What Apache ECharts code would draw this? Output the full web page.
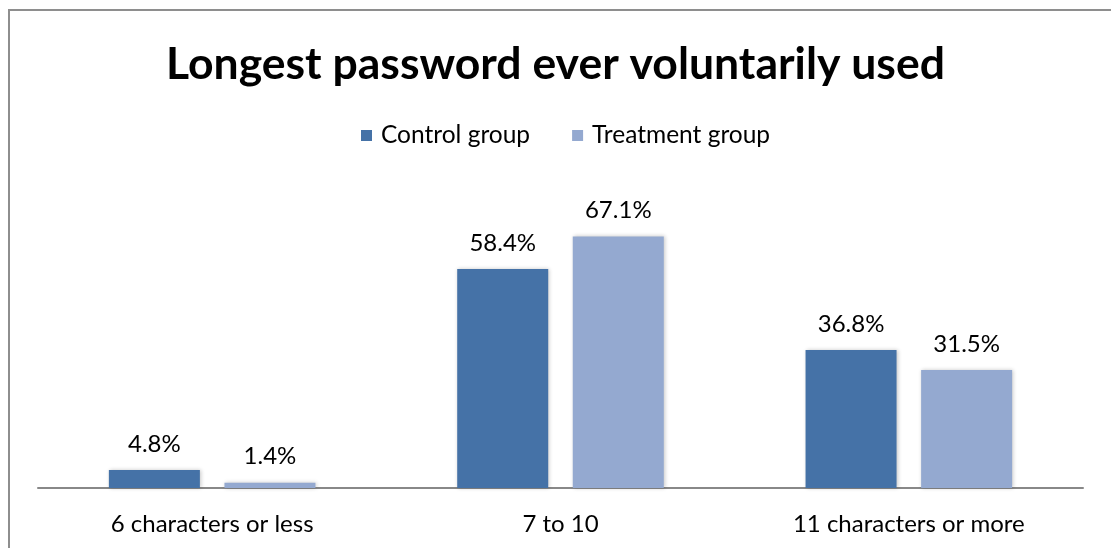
<!DOCTYPE html>
<html>
<head>
<meta charset="utf-8">
<script src="https://cdn.jsdelivr.net/npm/echarts@6/dist/echarts.min.js"></script>
<style>
  html, body { margin: 0; padding: 0; background: #fff; }
  #chart { width: 1111px; height: 548px; }
</style>
</head>
<body>
<div id="chart"></div>
<script>
// Length buckets and share of respondents (%) per group
const categories = ['6 characters or less', '7 to 10', '11 characters or more'];
const controlGroup = [4.8, 58.4, 36.8];
const treatmentGroup = [1.4, 67.1, 31.5];
const seriesNames = ['Control group', 'Treatment group'];

const FONT = 'Lato, "Open Sans", sans-serif';
const chart = echarts.init(document.getElementById('chart'), null, { renderer: 'canvas' });

const barShadow = {
  shadowColor: 'rgba(0,0,0,0.22)',
  shadowBlur: 4,
  shadowOffsetX: 1,
  shadowOffsetY: 0
};

const valueLabel = {
  show: true, position: 'top', distance: 14,
  formatter: p => p.value.toFixed(1) + '%',
  fontFamily: FONT, fontSize: 24, color: '#000'
};

chart.setOption({
  animation: false,
  backgroundColor: '#fff',
  title: {
    text: 'Longest password ever voluntarily used',
    left: 'center',
    top: 37,
    textStyle: { fontFamily: FONT, fontWeight: 'bold', fontSize: 44.5, color: '#000' }
  },
  legend: {
    top: 118,
    left: 356,
    itemWidth: 11,
    itemHeight: 11,
    itemGap: 42,
    icon: 'rect',
    textStyle: { fontFamily: FONT, fontSize: 24.5, color: '#000', padding: [0, 0, 0, 4] },
    data: seriesNames
  },
  graphic: [{
    type: 'rect',
    shape: { x: 9, y: 10, width: 1200, height: 700 },
    style: { fill: 'none', stroke: '#8e8e8e', lineWidth: 2 },
    silent: true
  }],
  grid: { left: 38, right: 28, top: 188, bottom: 60 },
  xAxis: {
    type: 'category',
    data: categories,
    axisLine: { lineStyle: { color: '#888', width: 2 } },
    axisTick: { show: false },
    axisLabel: { fontFamily: FONT, fontSize: 24, color: '#000', margin: 24 }
  },
  yAxis: {
    type: 'value',
    min: 0,
    max: 80,
    show: false,
    splitLine: { show: false }
  },
  series: [
    {
      name: seriesNames[0],
      type: 'bar',
      data: controlGroup,
      barWidth: 91,
      barGap: '27%',
      itemStyle: Object.assign({ color: '#4572A7' }, barShadow),
      label: valueLabel
    },
    {
      name: seriesNames[1],
      type: 'bar',
      data: treatmentGroup,
      barWidth: 91,
      barGap: '27%',
      itemStyle: Object.assign({ color: '#94A9D0' }, barShadow),
      label: valueLabel
    }
  ]
});
</script>
</body>
</html>
